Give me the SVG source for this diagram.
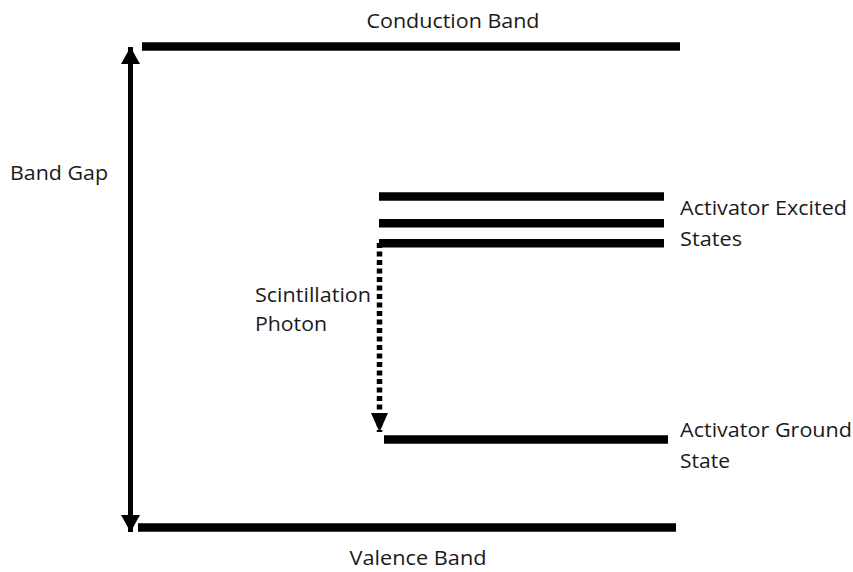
<svg xmlns="http://www.w3.org/2000/svg" width="853" height="572" viewBox="0 0 853 572">
  <defs>
    <marker id="head" viewBox="0 0 17 19" refX="17" refY="9.5" markerWidth="17" markerHeight="19" markerUnits="userSpaceOnUse" orient="auto-start-reverse">
      <path d="M0,0 L17,9.5 L0,19 z" fill="#000"/>
    </marker>
    <marker id="dot-head" viewBox="0 0 19 17" refX="19" refY="8.5" markerWidth="19" markerHeight="17" markerUnits="userSpaceOnUse" orient="auto">
      <path d="M0,0 L19,8.5 L0,17 z" fill="#000"/>
    </marker>
    <style>
      .level { stroke: #000; stroke-width: 8.5; }
      .label { font-family: "Open Sans", "Liberation Sans", sans-serif; font-size: 20.5px; fill: #1a1a1a; }
    </style>
  </defs>
  <rect width="853" height="572" fill="#fff"/>

  <g id="conduction-band">
    <line class="level" x1="142" y1="46.5" x2="680" y2="46.5"/>
    <text class="label" x="453" y="28" text-anchor="middle" textLength="173" lengthAdjust="spacingAndGlyphs">Conduction Band</text>
  </g>

  <g id="valence-band">
    <line class="level" x1="138" y1="527.5" x2="676" y2="527.5"/>
    <text class="label" x="418" y="565" text-anchor="middle" textLength="137" lengthAdjust="spacingAndGlyphs">Valence Band</text>
  </g>

  <g id="excited-states">
    <line class="level" x1="379" y1="196.5" x2="664" y2="196.5"/>
    <line class="level" x1="379" y1="223.3" x2="664" y2="223.3"/>
    <line class="level" x1="379" y1="243.3" x2="664" y2="243.3"/>
    <text class="label" x="680" y="215" textLength="167" lengthAdjust="spacingAndGlyphs">Activator Excited</text>
    <text class="label" x="680" y="246" textLength="62" lengthAdjust="spacingAndGlyphs">States</text>
  </g>

  <g id="ground-state">
    <line class="level" x1="384" y1="439.5" x2="668" y2="439.5"/>
    <text class="label" x="680" y="437" textLength="172" lengthAdjust="spacingAndGlyphs">Activator Ground</text>
    <text class="label" x="680" y="468" textLength="50" lengthAdjust="spacingAndGlyphs">State</text>
  </g>

  <g id="band-gap-label">
    <text class="label" x="10" y="180" textLength="98" lengthAdjust="spacingAndGlyphs">Band Gap</text>
  </g>

  <g id="photon-label">
    <text class="label" x="255" y="302" textLength="116" lengthAdjust="spacingAndGlyphs">Scintillation</text>
    <text class="label" x="255" y="331" textLength="72" lengthAdjust="spacingAndGlyphs">Photon</text>
  </g>

  <g id="connectors">
    <line x1="130.5" y1="47" x2="130.5" y2="532" stroke="#000" stroke-width="5" marker-start="url(#head)" marker-end="url(#head)"/>
    <line x1="379.5" y1="243" x2="379.5" y2="432" stroke="#000" stroke-width="5.5" stroke-dasharray="5 3.5" marker-end="url(#dot-head)"/>
  </g>
</svg>
